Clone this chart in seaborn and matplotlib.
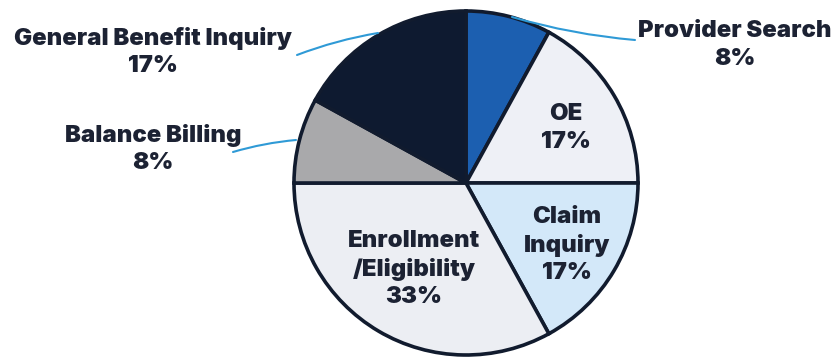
import matplotlib
matplotlib.use("Agg")
import matplotlib.pyplot as plt
import seaborn as sns

categories = ["Provider Search", "OE", "Claim Inquiry", "Enrollment\n/Eligibility",
              "Balance Billing", "General Benefit Inquiry"]
values = [8, 17, 17, 33, 8, 17]
pct_labels = ["8%", "17%", "17%", "33%", "8%", "17%"]
colors = ["#1c5fb0", "#eef0f6", "#d3e8f9", "#eceef3", "#a9a9ab", "#0e1a30"]

sns.set_theme(style="white")
plt.rcParams["font.family"] = ["Inter", "DejaVu Sans"]

W, H = 835, 357
fig = plt.figure(figsize=(W / 100, H / 100), dpi=100)
ax = fig.add_axes([0, 0, 1, 1])

cx, cy, r = 466, H - 183, 172
wedges, _ = ax.pie(values, colors=colors, startangle=90, counterclock=False,
                   center=(cx, cy), radius=r,
                   wedgeprops=dict(edgecolor="#111b2e", linewidth=2.6))
ax.set_xlim(0, W)
ax.set_ylim(0, H)
ax.set_aspect("equal")
ax.axis("off")

txt = "#1c2233"
fs = 17.2
def lbl(x, y, s):
    ax.text(x, H - y, s, ha="center", va="center", fontsize=fs,
            fontweight="black", color=txt, linespacing=1.34)

# inside labels
lbl(566, 128, f"{categories[1]}\n{pct_labels[1]}")
lbl(567, 245, f"Claim\nInquiry\n{pct_labels[2]}")
lbl(414, 269, f"{categories[3]}\n{pct_labels[3]}")
# outside labels
lbl(153, 52, f"{categories[5]}\n{pct_labels[5]}")
lbl(153, 149, f"{categories[4]}\n{pct_labels[4]}")
lbl(735, 45, f"{categories[0]}\n{pct_labels[0]}")

line_c = "#2f9ad6"
def leader(x0, y0, x1, y1, rad):
    ax.annotate("", xy=(x1, H - y1), xytext=(x0, H - y0),
                arrowprops=dict(arrowstyle="-", color=line_c, lw=1.5,
                                connectionstyle=f"arc3,rad={rad}",
                                shrinkA=0, shrinkB=0))

leader(297, 55, 378, 33, -0.05)
leader(233, 152, 296, 140, -0.05)
leader(635, 40, 512, 17, -0.05)

fig.savefig("out.png", dpi=100)
